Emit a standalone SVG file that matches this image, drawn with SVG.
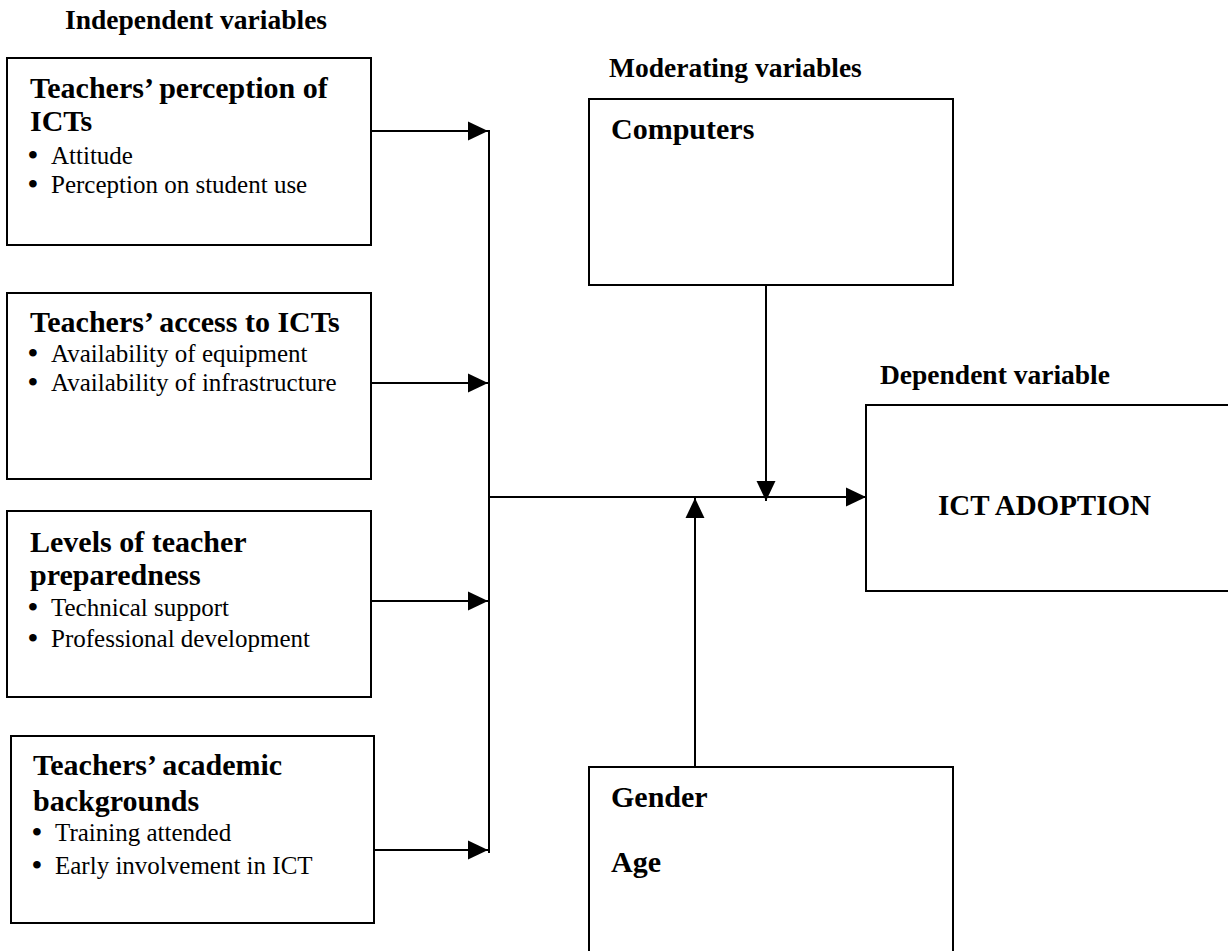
<svg xmlns="http://www.w3.org/2000/svg" width="1228" height="951" viewBox="0 0 1228 951">
<style>
  .box { fill: #ffffff; stroke: #000000; stroke-width: 2; }
  .head { font-family: "Liberation Serif", "Times New Roman", serif; font-weight: bold; font-size: 30px; fill: #000; }
  .lab { font-family: "Liberation Serif", "Times New Roman", serif; font-weight: bold; font-size: 27.5px; fill: #000; }
  .item { font-family: "Liberation Serif", "Times New Roman", serif; font-size: 25px; fill: #000; }
  .bul { font-size: 28px; font-weight: bold; }
  .conn { fill: none; stroke: #000000; stroke-width: 2; }
</style>
<defs>
  <marker id="arr" markerUnits="userSpaceOnUse" markerWidth="20" markerHeight="20" viewBox="0 0 19 18" refX="19" refY="9" orient="auto">
    <path d="M0,0 L19,9 L0,18 Z" fill="#000"/>
  </marker>
</defs>
<rect width="1228" height="951" fill="#ffffff"/>

<g id="labels">
  <text class="lab" x="65" y="29">Independent variables</text>
  <text class="lab" x="609" y="77">Moderating variables</text>
  <text class="lab" x="880" y="384">Dependent variable</text>
</g>

<g id="connectors">
  <line class="conn" x1="371" y1="131" x2="488" y2="131" marker-end="url(#arr)"/>
  <line class="conn" x1="371" y1="383" x2="488" y2="383" marker-end="url(#arr)"/>
  <line class="conn" x1="371" y1="601" x2="488" y2="601" marker-end="url(#arr)"/>
  <line class="conn" x1="374" y1="850" x2="488" y2="850" marker-end="url(#arr)"/>
  <line class="conn" x1="489" y1="130" x2="489" y2="853"/>
  <line class="conn" x1="489" y1="497" x2="866" y2="497" marker-end="url(#arr)"/>
  <line class="conn" x1="766" y1="285" x2="766" y2="501" marker-end="url(#arr)"/>
  <line class="conn" x1="695" y1="767" x2="695" y2="498" marker-end="url(#arr)"/>
</g>

<g id="node-perception">
  <rect class="box" x="7" y="58" width="364" height="187"/>
  <text class="head" x="30" y="98">Teachers’ perception of</text>
  <text class="head" x="30" y="131">ICTs</text>
  <text class="item" y="164"><tspan class="bul" x="28">•</tspan><tspan x="51">Attitude</tspan></text>
  <text class="item" y="193"><tspan class="bul" x="28">•</tspan><tspan x="51">Perception on student use</tspan></text>
</g>

<g id="node-access">
  <rect class="box" x="7" y="293" width="364" height="186"/>
  <text class="head" x="30" y="332">Teachers’ access to ICTs</text>
  <text class="item" y="362"><tspan class="bul" x="28">•</tspan><tspan x="51">Availability of equipment</tspan></text>
  <text class="item" y="391"><tspan class="bul" x="28">•</tspan><tspan x="51">Availability of infrastructure</tspan></text>
</g>

<g id="node-preparedness">
  <rect class="box" x="7" y="511" width="364" height="186"/>
  <text class="head" x="30" y="552">Levels of teacher</text>
  <text class="head" x="30" y="585">preparedness</text>
  <text class="item" y="616"><tspan class="bul" x="28">•</tspan><tspan x="51">Technical support</tspan></text>
  <text class="item" y="647"><tspan class="bul" x="28">•</tspan><tspan x="51">Professional development</tspan></text>
</g>

<g id="node-academic">
  <rect class="box" x="11" y="736" width="363" height="187"/>
  <text class="head" x="33" y="775">Teachers’ academic</text>
  <text class="head" x="33" y="811">backgrounds</text>
  <text class="item" y="841"><tspan class="bul" x="32">•</tspan><tspan x="55">Training attended</tspan></text>
  <text class="item" y="874"><tspan class="bul" x="32">•</tspan><tspan x="55">Early involvement in ICT</tspan></text>
</g>

<g id="node-computers">
  <rect class="box" x="589" y="99" width="364" height="186"/>
  <text class="head" x="611" y="139">Computers</text>
</g>

<g id="node-ict-adoption">
  <rect class="box" x="866" y="405" width="380" height="186"/>
  <text class="head" x="938" y="515" style="font-size:29px">ICT ADOPTION</text>
</g>

<g id="node-gender-age">
  <rect class="box" x="589" y="767" width="364" height="200"/>
  <text class="head" x="611" y="807">Gender</text>
  <text class="head" x="611" y="872">Age</text>
</g>
</svg>
